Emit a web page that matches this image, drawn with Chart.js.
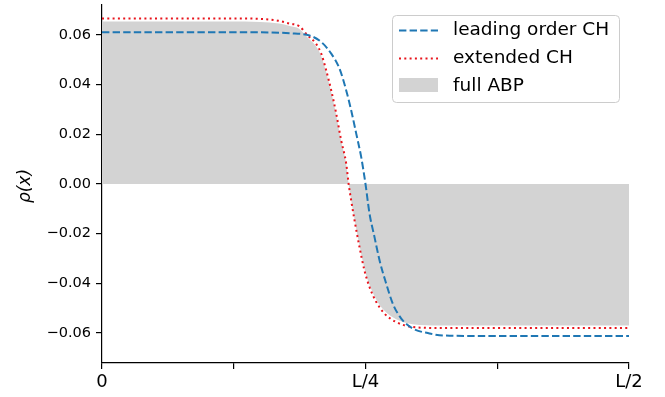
<!DOCTYPE html>
<html>
<head>
<meta charset="utf-8">
<script src="https://cdn.jsdelivr.net/npm/chart.js@4"></script>
<style>
html,body{margin:0;padding:0;background:#fff;}
#wrap{width:665px;height:397px;}
</style>
</head>
<body>
<div id="wrap"><canvas id="c" width="665" height="397"></canvas></div>
<script>
// x positions in units of L
const leadX = [0, 0.1, 0.15, 0.178, 0.197, 0.208, 0.2175, 0.2253, 0.2317, 0.2364, 0.2412, 0.2459, 0.25, 0.2538, 0.2585, 0.2633, 0.2696, 0.2759, 0.2839, 0.2949, 0.3107, 0.32, 0.35, 0.4, 0.5];
const leadY = [0.0611, 0.0611, 0.0611, 0.0607, 0.0598, 0.0572, 0.0525, 0.0465, 0.0377, 0.0297, 0.0203, 0.0109, 0.0, -0.0119, -0.0213, -0.0307, -0.0401, -0.0482, -0.0542, -0.0582, -0.0602, -0.0609, -0.0612, -0.0612, -0.0612];

const extX = [0, 0.12, 0.15, 0.168, 0.178, 0.187, 0.195, 0.203, 0.208, 0.2127, 0.2175, 0.2222, 0.2269, 0.2317, 0.234, 0.2364, 0.2396, 0.2443, 0.249, 0.2538, 0.2602, 0.268, 0.2791, 0.2949, 0.32, 0.5];
const extY = [0.0667, 0.0667, 0.0665, 0.0657, 0.0646, 0.0636, 0.0599, 0.0565, 0.0525, 0.0458, 0.0377, 0.0284, 0.0176, 0.0082, 0.0, -0.0066, -0.0146, -0.0254, -0.0348, -0.0415, -0.0475, -0.0522, -0.0556, -0.0576, -0.058, -0.058];

const abpX = [0, 0.12, 0.15, 0.168, 0.178, 0.187, 0.195, 0.203, 0.208, 0.2127, 0.2175, 0.2222, 0.2269, 0.2317, 0.234, 0.2364, 0.2396, 0.2443, 0.249, 0.2538, 0.2602, 0.268, 0.2791, 0.2949, 0.32, 0.5];
const abpY = [0.0655, 0.0655, 0.0653, 0.0646, 0.0636, 0.0625, 0.0590, 0.0555, 0.0515, 0.0450, 0.0370, 0.0278, 0.0172, 0.0080, 0.0, -0.0064, -0.0142, -0.0248, -0.0340, -0.0406, -0.0465, -0.0511, -0.0545, -0.0565, -0.0570, -0.0570];

const xTickValues = [0, 0.125, 0.25, 0.375, 0.5];
const xTickLabels = ['0', '', 'L/4', '', 'L/2'];
const yTickValues = [-0.06, -0.04, -0.02, 0.0, 0.02, 0.04, 0.06];
const yTickLabels = ['\u22120.06', '\u22120.04', '\u22120.02', '0.00', '0.02', '0.04', '0.06'];
const seriesNames = ['leading order CH', 'extended CH', 'full ABP'];

const pts = (xs, ys) => xs.map((x, i) => ({x: x, y: ys[i]}));

const legendPlugin = {
  id: 'mplLegend',
  afterDraw(chart) {
    const ctx = chart.ctx;
    ctx.save();
    const bx = 392.5, by = 15.5, bw = 227, bh = 87, r = 4;
    ctx.beginPath();
    ctx.moveTo(bx + r, by);
    ctx.lineTo(bx + bw - r, by);
    ctx.quadraticCurveTo(bx + bw, by, bx + bw, by + r);
    ctx.lineTo(bx + bw, by + bh - r);
    ctx.quadraticCurveTo(bx + bw, by + bh, bx + bw - r, by + bh);
    ctx.lineTo(bx + r, by + bh);
    ctx.quadraticCurveTo(bx, by + bh, bx, by + bh - r);
    ctx.lineTo(bx, by + r);
    ctx.quadraticCurveTo(bx, by, bx + r, by);
    ctx.closePath();
    ctx.fillStyle = 'rgba(255,255,255,0.8)';
    ctx.fill();
    ctx.strokeStyle = '#cccccc';
    ctx.lineWidth = 1;
    ctx.stroke();
    ctx.lineWidth = 2;
    ctx.strokeStyle = '#1f77b4';
    ctx.setLineDash([7.4, 3.2]);
    ctx.beginPath(); ctx.moveTo(399, 30.5); ctx.lineTo(438, 30.5); ctx.stroke();
    ctx.strokeStyle = '#e8141c';
    ctx.setLineDash([2, 3.3]);
    ctx.beginPath(); ctx.moveTo(399, 58.5); ctx.lineTo(438, 58.5); ctx.stroke();
    ctx.setLineDash([]);
    ctx.fillStyle = '#d3d3d3';
    ctx.fillRect(399, 78, 39, 14);
    ctx.fillStyle = '#000';
    ctx.font = '18.5px "DejaVu Sans"';
    ctx.textBaseline = 'middle';
    ctx.textAlign = 'left';
    ctx.fillText(seriesNames[0], 453, 30);
    ctx.fillText(seriesNames[1], 453, 58);
    ctx.fillText(seriesNames[2], 453, 86);
    ctx.translate(26, 186);
    ctx.rotate(-Math.PI / 2);
    ctx.textAlign = 'center';
    ctx.font = 'italic 17px "DejaVu Sans"';
    ctx.fillText('\u03c1(x)', 0, 0);
    ctx.restore();
  }
};

new Chart(document.getElementById('c'), {
  type: 'line',
  data: {
    datasets: [
      {
        label: seriesNames[0],
        data: pts(leadX, leadY),
        borderColor: '#1f77b4',
        borderWidth: 2,
        borderDash: [7.4, 3.2],
        pointRadius: 0,
        fill: false,
        cubicInterpolationMode: 'monotone'
      },
      {
        label: seriesNames[1],
        data: pts(extX, extY),
        borderColor: '#e8141c',
        borderWidth: 2,
        borderDash: [2, 3.3],
        pointRadius: 0,
        fill: false,
        cubicInterpolationMode: 'monotone'
      },
      {
        label: seriesNames[2],
        data: pts(abpX, abpY),
        borderColor: 'rgba(0,0,0,0)',
        borderWidth: 0,
        backgroundColor: '#d3d3d3',
        pointRadius: 0,
        fill: 'origin',
        cubicInterpolationMode: 'monotone'
      }
    ]
  },
  options: {
    responsive: false,
    animation: false,
    devicePixelRatio: 1,
    layout: {padding: {top: 5, right: 36, left: 0, bottom: 0}},
    plugins: {legend: {display: false}, tooltip: {enabled: false}},
    scales: {
      x: {
        type: 'linear',
        min: 0,
        max: 0.5,
        afterBuildTicks: (s) => { s.ticks = xTickValues.map(v => ({value: v})); },
        afterFit: (s) => { s.height = 34; s.paddingLeft = 0; s.paddingRight = 0; },
        ticks: {
          autoSkip: false,
          maxRotation: 0,
          padding: 3,
          color: '#000',
          font: {family: 'DejaVu Sans', size: 18},
          callback: (v) => { const i = xTickValues.indexOf(v); return i >= 0 ? xTickLabels[i] : ''; }
        },
        grid: {drawOnChartArea: false, drawTicks: true, tickLength: 6, color: '#000', lineWidth: 1.2},
        border: {display: true, color: '#000', width: 1.2}
      },
      y: {
        type: 'linear',
        min: -0.0721,
        max: 0.0721,
        afterBuildTicks: (s) => { s.ticks = yTickValues.map(v => ({value: v})); },
        afterFit: (s) => { s.width = 102; s.paddingTop = 0; s.paddingBottom = 0; },
        ticks: {
          autoSkip: false,
          padding: 5,
          color: '#000',
          font: {family: 'DejaVu Sans', size: 14.5},
          callback: (v) => { const i = yTickValues.findIndex(t => Math.abs(t - v) < 1e-9); return i >= 0 ? yTickLabels[i] : ''; }
        },
        grid: {drawOnChartArea: false, drawTicks: true, tickLength: 6, color: '#000', lineWidth: 1.2},
        border: {display: true, color: '#000', width: 1.2}
      }
    }
  },
  plugins: [legendPlugin]
});
</script>
</body>
</html>
